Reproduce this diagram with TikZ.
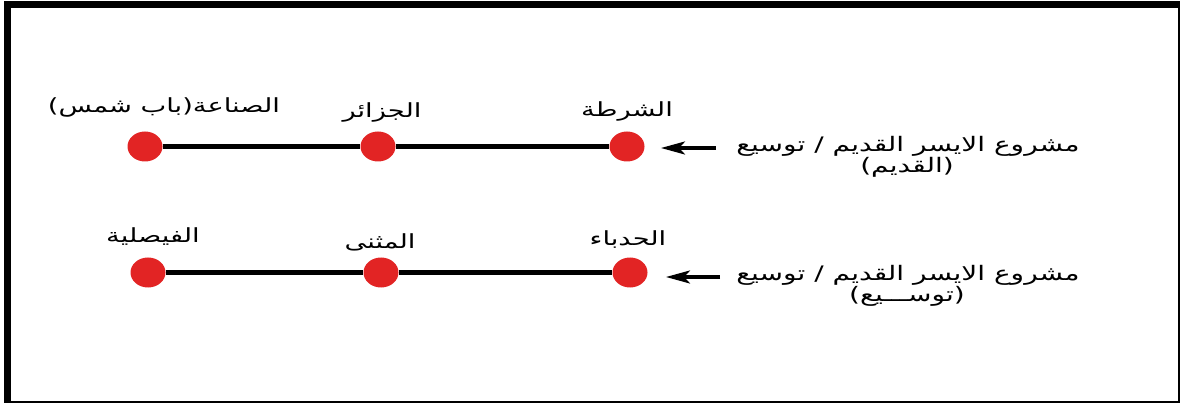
\documentclass[tikz,border=0pt]{standalone}
\usepackage{fontspec}
\newfontfamily\arabicfont[Script=Arabic,FakeStretch=1.4]{DejaVu Sans}
\TeXXeTstate=1
\usetikzlibrary{arrows.meta,shapes.geometric}
\definecolor{dotred}{RGB}{226,36,36}
\begin{document}
\begin{tikzpicture}[x=1pt,y=-1pt,
  stop/.style={ellipse,fill=dotred,draw=none,minimum width=35pt,minimum height=30pt,inner sep=0pt},
  lbl/.style={font=\arabicfont\fontsize{19.5}{22}\selectfont,inner sep=0pt,anchor=center},
  note/.style={font=\arabicfont\fontsize{20}{23}\selectfont,inner sep=0pt,anchor=center},
  route/.style={line width=4.8pt},
  ptr/.style={line width=3.3pt,-{Stealth[length=24pt,width=13pt,inset=6pt]}}]
\useasboundingbox (0,0) rectangle (1180,403);
\draw[line width=6.5pt] (7.7,4.7) rectangle (1181,404);
% row 1
\node[stop] (a1) at (145,146.5) {};
\node[stop] (a2) at (378,146.5) {};
\node[stop] (a3) at (627,146.5) {};
\draw[route] (a1) -- (a2) -- (a3);
\node[lbl] (la1) at (164,107) {\beginR الصناعة(باب شمس)\endR};
\node[lbl] (la2) at (382,112) {\beginR الجزائر\endR};
\node[lbl] (la3) at (627,111) {\beginR الشرطة\endR};
\coordinate (s1) at (716,148);
\coordinate (t1) at (661,148);
\draw[ptr] (s1) -- (t1);
\node[note] (n1) at (908,146) {\beginR مشروع الايسر القديم / توسيع\endR};
\node[note] (m1) at (907,167) {\beginR (القديم)\endR};
% row 2
\node[stop] (b1) at (148,272.5) {};
\node[stop] (b2) at (381,272.5) {};
\node[stop] (b3) at (630,272.5) {};
\draw[route] (b1) -- (b2) -- (b3);
\node[lbl] (lb1) at (153,237) {\beginR الفيصلية\endR};
\node[lbl] (lb2) at (380,242) {\beginR المثنى\endR};
\node[lbl] (lb3) at (628,240) {\beginR الحدباء\endR};
\coordinate (s2) at (720,277);
\coordinate (t2) at (666,277);
\draw[ptr] (s2) -- (t2);
\node[note] (n2) at (908,275) {\beginR مشروع الايسر القديم / توسيع\endR};
\node[note] (m2) at (907,296) {\beginR (توســـيع)\endR};
\end{tikzpicture}
\end{document}
